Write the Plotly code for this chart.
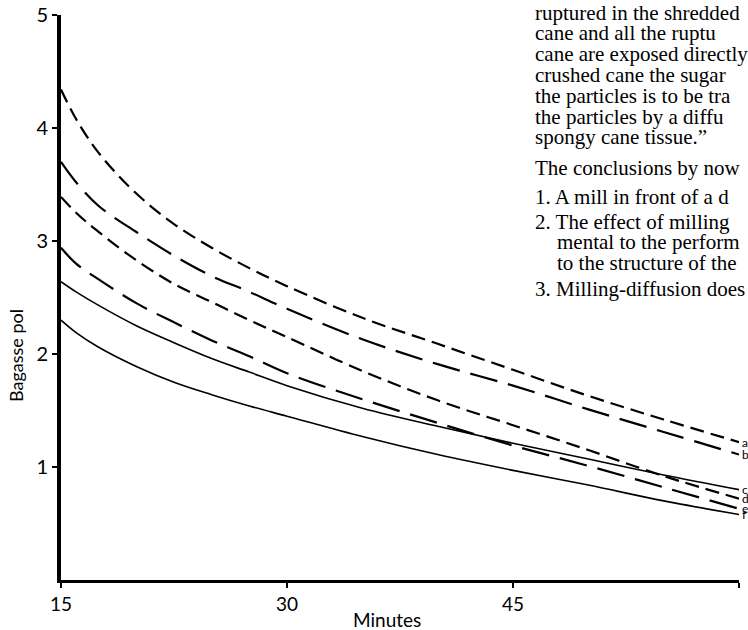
import plotly.graph_objects as go

minutes = [15, 16, 17.5, 20, 22.5, 25, 27.5, 30, 35, 40, 45, 50, 55, 60]
curve_a = [4.34, 4.08, 3.78, 3.42, 3.15, 2.94, 2.76, 2.60, 2.32, 2.09, 1.86, 1.63, 1.42, 1.22]
curve_b = [3.70, 3.52, 3.31, 3.08, 2.87, 2.69, 2.55, 2.40, 2.13, 1.91, 1.72, 1.51, 1.31, 1.11]
curve_c = [2.64, 2.55, 2.43, 2.25, 2.10, 1.96, 1.84, 1.72, 1.52, 1.36, 1.21, 1.07, 0.93, 0.80]
curve_d = [3.39, 3.25, 3.08, 2.83, 2.62, 2.46, 2.30, 2.15, 1.85, 1.59, 1.37, 1.15, 0.92, 0.72]
curve_e = [2.94, 2.80, 2.66, 2.45, 2.28, 2.12, 1.98, 1.83, 1.60, 1.39, 1.19, 1.01, 0.82, 0.63]
curve_f = [2.30, 2.19, 2.06, 1.89, 1.75, 1.64, 1.54, 1.45, 1.27, 1.11, 0.97, 0.84, 0.70, 0.58]

curve_labels = ["a", "b", "c", "d", "e", "f"]
x_ticks = [15, 30, 45, 60]
y_ticks = [1, 2, 3, 4, 5]

text_lines = [
    "ruptured in the shredded",
    "cane and all the ruptu",
    "cane are exposed directly",
    "crushed cane the sugar",
    "the particles is to be tra",
    "the particles by a diffu",
    "spongy cane tissue.\u201d",
    "The conclusions by now",
    "1. A mill in front of a d",
    "2. The effect of milling",
    "mental to the perform",
    "to the structure of the",
    "3. Milling-diffusion does",
]
text_y_px = [13, 33, 54, 75, 96, 117, 137, 168, 197, 222, 242, 263, 289]
text_x_px = [533, 533, 533, 533, 533, 533, 533, 533, 533, 533, 555, 555, 533]

W, H = 748, 630
ML, MR, MT, MB = 61, 9, 15, 50
PW, PH = W - ML - MR, H - MT - MB


def px_x(px):
    return (px - ML) / PW


def px_y(py):
    return (H - MB - py) / PH


short_dash = "14px,7px"
long_dash = "28px,11px"
series = [
    (curve_a, short_dash, 2.2),
    (curve_b, long_dash, 2.2),
    (curve_c, "solid", 1.6),
    (curve_d, short_dash, 2.2),
    (curve_e, long_dash, 2.2),
    (curve_f, "solid", 1.6),
]

fig = go.Figure()
for (vals, dash, lw), name in zip(series, curve_labels):
    fig.add_trace(go.Scatter(
        x=minutes, y=vals, mode="lines", name=name,
        line=dict(color="black", width=lw, dash=dash, shape="spline", smoothing=1.0),
        showlegend=False, hoverinfo="skip",
    ))

annotations = []
for (vals, _, _), name in zip(series, curve_labels):
    annotations.append(dict(
        x=60, y=vals[-1], xref="x", yref="y", text=name, showarrow=False,
        xanchor="left", yanchor="middle", xshift=1,
        font=dict(family="Lato, sans-serif", size=12, color="black"),
    ))

for t, ypx, xpx in zip(text_lines, text_y_px, text_x_px):
    annotations.append(dict(
        x=px_x(xpx), y=px_y(ypx), xref="paper", yref="paper", text=t,
        showarrow=False, xanchor="left", yanchor="middle",
        font=dict(family="Liberation Serif, serif", size=21, color="black"),
    ))

annotations.append(dict(
    x=px_x(387), y=px_y(619), xref="paper", yref="paper", text="Minutes",
    showarrow=False, xanchor="center", yanchor="middle",
    font=dict(family="Lato, sans-serif", size=19, color="black"),
))
annotations.append(dict(
    x=px_x(16), y=px_y(355), xref="paper", yref="paper", text="Bagasse pol",
    showarrow=False, xanchor="center", yanchor="middle", textangle=-90,
    font=dict(family="Lato, sans-serif", size=18, color="black"),
))

fig.update_layout(
    width=W, height=H,
    margin=dict(l=ML, r=MR, t=MT, b=MB),
    paper_bgcolor="white", plot_bgcolor="white",
    annotations=annotations,
    xaxis=dict(
        range=[15, 60], tickvals=x_ticks, ticktext=[str(v) for v in x_ticks],
        showline=True, linecolor="black", linewidth=3, mirror=False,
        ticks="outside", ticklen=5, tickwidth=1.5, tickcolor="black",
        showgrid=False, zeroline=False, automargin=False,
        tickfont=dict(family="Lato, sans-serif", size=19, color="black"),
    ),
    yaxis=dict(
        range=[0, 5], tickvals=y_ticks, ticktext=[str(v) for v in y_ticks],
        showline=True, linecolor="black", linewidth=4, mirror=False,
        ticks="outside", ticklen=5, tickwidth=1.5, tickcolor="black",
        showgrid=False, zeroline=False, automargin=False,
        tickfont=dict(family="Lato, sans-serif", size=20, color="black"),
    ),
)

fig.write_html("out.html")
